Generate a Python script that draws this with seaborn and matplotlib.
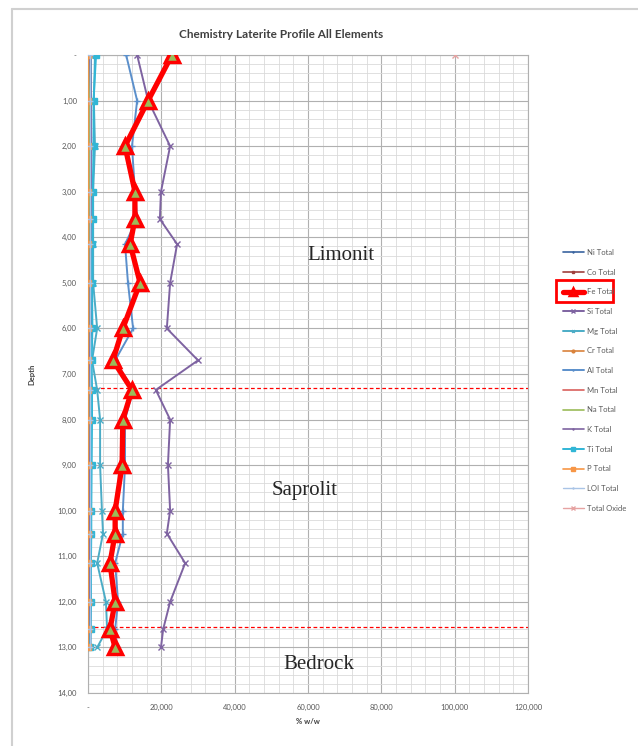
import numpy as np
import pandas as pd
import seaborn as sns
import matplotlib.pyplot as plt
from matplotlib.patches import Rectangle
from matplotlib.lines import Line2D
from matplotlib.ticker import MultipleLocator

# sample depths (m)
depth = [0, 1, 2, 3, 3.6, 4.15, 5, 6, 6.7, 7.35, 8, 9, 10, 10.5, 11.15, 12, 12.6, 13]

# element totals (thousands)
ni = [0.8, 0.8, 0.9, 0.8, 0.8, 0.8, 0.8, 0.9, 0.7, 0.8, 0.8, 0.8, 0.8, 0.8, 0.7, 0.8, 0.7, 0.7]
co = [0.1] * 18
fe = [22.9, 16.4, 10.1, 12.8, 12.8, 11.5, 14.2, 9.5, 6.8, 12.0, 9.5, 9.3, 7.4, 7.4, 6.0, 7.4, 6.0, 7.4]
si = [13.4, 16.4, 22.4, 19.9, 19.6, 24.3, 22.4, 21.5, 30.0, 18.5, 22.4, 21.8, 22.4, 21.5, 26.5, 22.4, 20.5, 19.9]
mg = [1.9, 1.6, 1.9, 1.4, 1.4, 1.4, 1.4, 2.5, 1.1, 2.5, 3.3, 3.3, 3.8, 4.1, 2.5, 4.9, 5.2, 2.5]
cr = [0.3] * 18
al = [10.4, 13.4, 12.0, 12.8, 13.4, 10.1, 10.9, 12.3, 7.4, 12.3, 10.1, 10.1, 9.5, 9.5, 7.4, 8.2, 7.4, 7.9]
mn = [0.4] * 18
na = [0.2] * 18
k = [0.5, 0.8, 0.9, 0.8, 0.7, 0.7, 0.6, 0.6, 0.5, 0.6, 0.6, 0.5, 0.5, 0.5, 0.5, 0.5, 0.4, 0.4]
ti = [2.2, 1.5, 1.5, 1.3, 1.3, 1.2, 1.1, 1.2, 1.0, 1.1, 1.1, 1.0, 0.9, 0.9, 0.8, 0.8, 0.7, 0.6]
p = [0.05] * 18
loi = [0.5] * 18
total_oxide = [100.0] + [np.nan] * 17

elements = ["Ni Total", "Co Total", "Fe Total", "Si Total", "Mg Total", "Cr Total", "Al Total",
            "Mn Total", "Na Total", "K Total", "Ti Total", "P Total", "LOI Total", "Total Oxide"]
values = [ni, co, fe, si, mg, cr, al, mn, na, k, ti, p, loi, total_oxide]

styles = {
    "Ni Total": dict(color="#3A64A0", marker="+", lw=1.2, ms=4),
    "Co Total": dict(color="#A0403D", marker="s", lw=1.2, ms=3),
    "Fe Total": dict(color="#FF0000", marker="^", lw=3.8, ms=10, mfc="#9BBB59", mec="#FF0000", mew=2.5),
    "Si Total": dict(color="#7E63A1", marker="x", lw=1.4, ms=5),
    "Mg Total": dict(color="#4BACC6", marker="x", lw=1.4, ms=4),
    "Cr Total": dict(color="#D9823B", marker="o", lw=1.2, ms=4),
    "Al Total": dict(color="#5B8FCB", marker="+", lw=1.4, ms=4),
    "Mn Total": dict(color="#D9605C", marker=None, lw=1.2, ms=0),
    "Na Total": dict(color="#9BBB59", marker=None, lw=1.2, ms=0),
    "K Total": dict(color="#7E63A1", marker="+", lw=1.2, ms=4),
    "Ti Total": dict(color="#31B6D6", marker="s", lw=1.4, ms=5),
    "P Total": dict(color="#F79646", marker="s", lw=1.2, ms=5),
    "LOI Total": dict(color="#A9C4E6", marker="+", lw=1.0, ms=4),
    "Total Oxide": dict(color="#E6A3A2", marker="x", lw=1.0, ms=5),
}

df = pd.DataFrame({
    "element": np.repeat(elements, len(depth)),
    "depth": depth * len(elements),
    "value": np.concatenate([np.array(v, dtype=float) * 1000 for v in values]),
})

sns.set_style("white")
plt.rcParams["font.family"] = ["Lato", "DejaVu Sans"]

fig = plt.figure(figsize=(6.38, 7.46), dpi=100)
ax = fig.add_axes([88 / 638, 1 - 693 / 746, 440 / 638, 638 / 746])

for name in elements:
    st = styles[name]
    sub = df[df["element"] == name].dropna()
    sns.lineplot(data=sub, x="value", y="depth", sort=False, estimator=None, orient="y",
                 ax=ax, color=st["color"], marker=st["marker"], linewidth=st["lw"],
                 markersize=st["ms"], markerfacecolor=st.get("mfc", st["color"]),
                 markeredgecolor=st.get("mec", st["color"]), markeredgewidth=st.get("mew", 1.0),
                 label=name, zorder=5 if name == "Fe Total" else 3)

ax.set_xlim(0, 120000)
ax.set_ylim(14, 0)
ax.xaxis.set_major_locator(MultipleLocator(20000))
ax.xaxis.set_minor_locator(MultipleLocator(4000))
ax.yaxis.set_major_locator(MultipleLocator(1))
ax.yaxis.set_minor_locator(MultipleLocator(0.2))
ax.set_xticks(range(0, 120001, 20000))
ax.set_xticklabels(["-"] + [f"{v:,}" for v in range(20000, 120001, 20000)])
ax.set_yticks(range(0, 15))
ax.set_yticklabels(["-"] + [f"{v},00" for v in range(1, 15)])
ax.grid(which="major", color="#B0B0B0", lw=0.8)
ax.grid(which="minor", color="#DADADA", lw=0.6)
ax.set_axisbelow(True)
ax.tick_params(axis="both", which="both", length=0, labelsize=5.5, colors="#595959", pad=8)
for s in ax.spines.values():
    s.set_color("#B0B0B0")
    s.set_linewidth(0.8)

ax.set_xlabel("% w/w", fontsize=5.5, fontweight="bold", color="#404040", labelpad=5)
ax.set_ylabel("Depth", fontsize=5.5, fontweight="bold", color="#404040", labelpad=16)

# zone boundaries
ax.axhline(7.3, color="#FF0000", lw=0.9, ls=(0, (3, 2)), zorder=2)
ax.axhline(12.55, color="#FF0000", lw=0.9, ls=(0, (3, 2)), zorder=2)

ax.text(69000, 4.4, "Limonit", family="Liberation Serif", fontsize=15, ha="center", va="center")
ax.text(59000, 9.55, "Saprolit", family="Liberation Serif", fontsize=15, ha="center", va="center")
ax.text(63000, 13.37, "Bedrock", family="Liberation Serif", fontsize=15, ha="center", va="center")

fig.text(281 / 638, 1 - 35 / 746, "Chemistry Laterite Profile All Elements",
         fontsize=8.5, fontweight="bold", color="#404040", ha="center", va="center")

handles, labels = ax.get_legend_handles_labels()
if ax.get_legend() is not None:
    ax.get_legend().remove()
fig.legend(handles, labels, loc="upper left", bbox_to_anchor=(563 / 638, 1 - 249 / 746),
           frameon=False, fontsize=5.5, labelspacing=1.66, handlelength=2.7,
           handletextpad=0.5, borderpad=0, borderaxespad=0, markerscale=0.5,
           labelcolor="#595959")

# highlight box round Fe entry
fig.patches.append(Rectangle((556 / 638, 1 - 302 / 746), 57 / 638, 22 / 746,
                             transform=fig.transFigure, fill=False, ec="#FF0000", lw=2))

# light chart frame (left and top)
fig.add_artist(Line2D([12 / 638, 12 / 638], [0, 1 - 9 / 746], transform=fig.transFigure,
                      color="#D0D0D0", lw=1.5))
fig.add_artist(Line2D([12 / 638, 1], [1 - 9 / 746, 1 - 9 / 746], transform=fig.transFigure,
                      color="#D0D0D0", lw=1.5))

fig.savefig("out.png", dpi=100)
